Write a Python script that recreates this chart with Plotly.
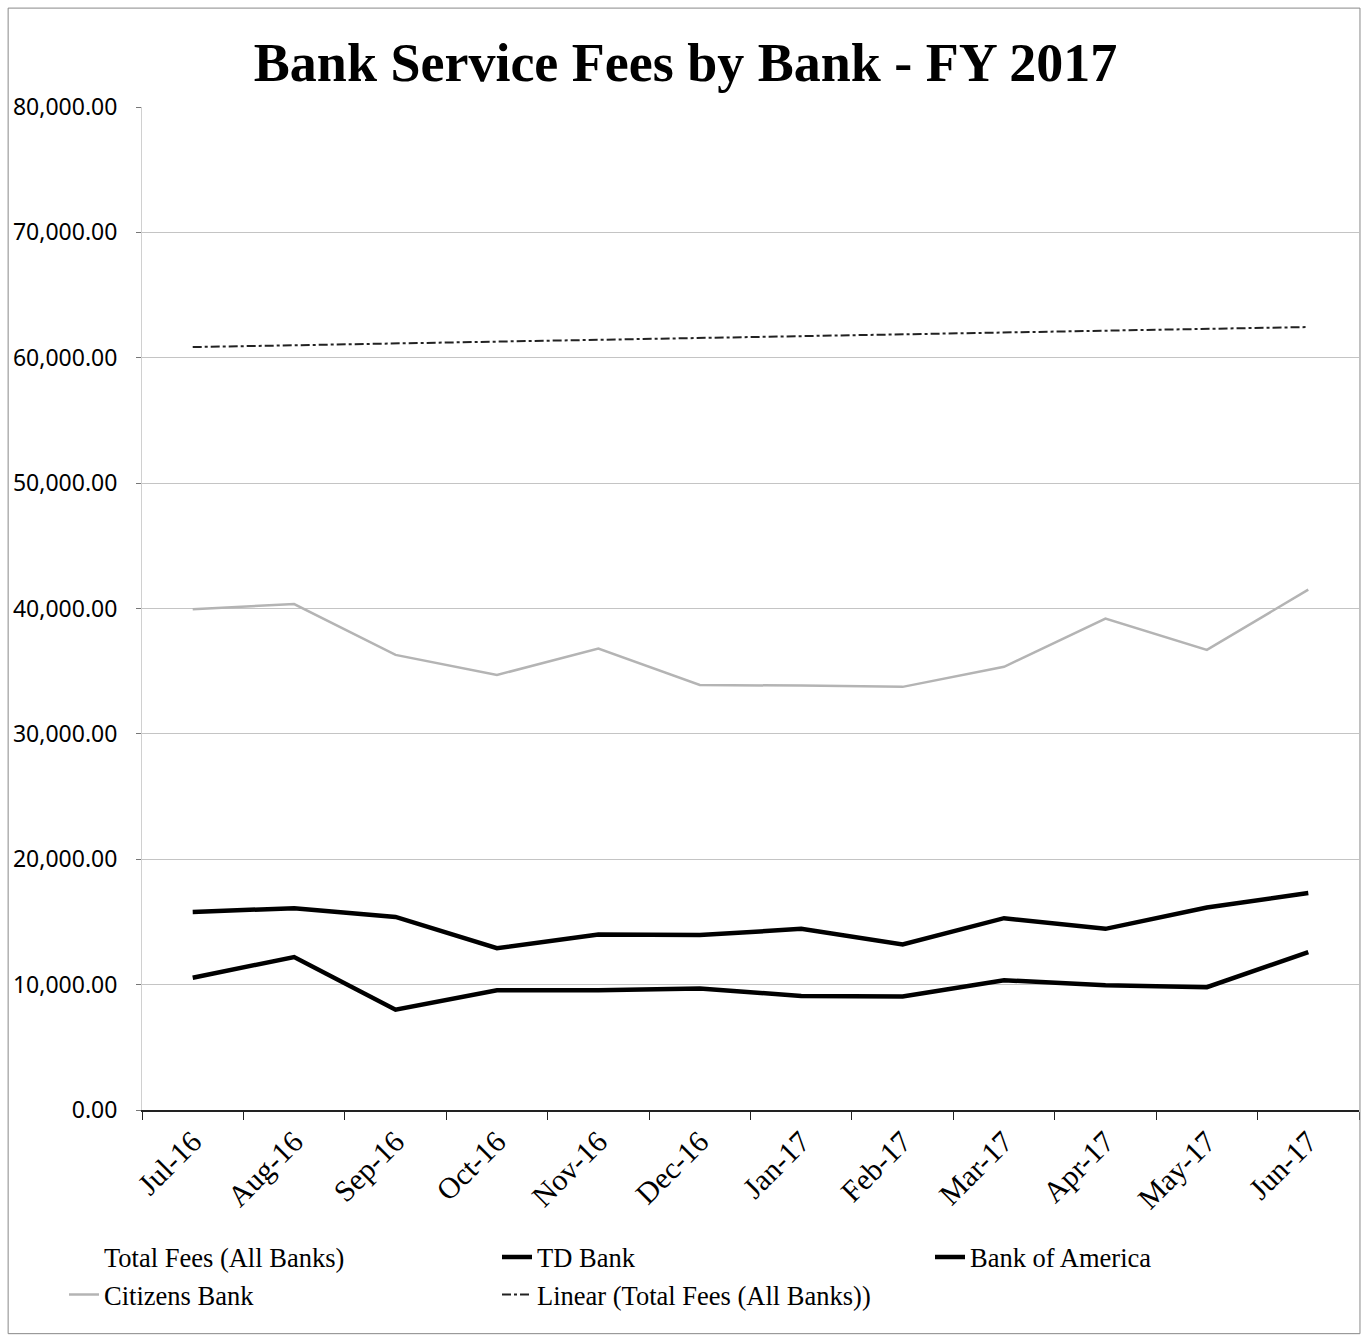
import plotly.graph_objects as go

months = ["Jul-16", "Aug-16", "Sep-16", "Oct-16", "Nov-16", "Dec-16",
          "Jan-17", "Feb-17", "Mar-17", "Apr-17", "May-17", "Jun-17"]
total_fees = [66300, 68650, 59700, 57150, 60350, 57550, 57400, 56000, 61000, 63600, 62650, 71400]
td_bank = [15800, 16100, 15400, 12900, 14000, 13950, 14450, 13200, 15300, 14450, 16150, 17300]
bank_of_america = [10550, 12200, 8000, 9550, 9550, 9700, 9100, 9050, 10350, 9950, 9800, 12600]
citizens_bank = [39950, 40350, 36300, 34700, 36800, 33900, 33850, 33750, 35350, 39200, 36700, 41500]
trend_months = ["Jul-16", "Jun-17"]
trend_values = [60850, 62450]
y_ticks = [0, 10000, 20000, 30000, 40000, 50000, 60000, 70000, 80000]

fig = go.Figure()
fig.add_trace(go.Scatter(x=months, y=total_fees, mode="lines", name="Total Fees (All Banks)",
                         line=dict(color="rgba(255,255,255,0)", width=2)))
fig.add_trace(go.Scatter(x=months, y=td_bank, mode="lines", name="TD Bank",
                         line=dict(color="#000000", width=4.5)))
fig.add_trace(go.Scatter(x=months, y=bank_of_america, mode="lines", name="Bank of America",
                         line=dict(color="#000000", width=4.5)))
fig.add_trace(go.Scatter(x=months, y=citizens_bank, mode="lines", name="Citizens Bank",
                         line=dict(color="#b4b4b4", width=2.5)))
fig.add_trace(go.Scatter(x=trend_months, y=trend_values, mode="lines",
                         name="Linear (Total Fees (All Banks))",
                         line=dict(color="#222222", width=2, dash="dashdot")))

fig.update_layout(
    width=1363, height=1337,
    margin=dict(l=142, r=4, t=107, b=227),
    paper_bgcolor="white", plot_bgcolor="white",
    title=dict(text="<b>Bank Service Fees by Bank - FY 2017</b>",
               font=dict(family="Liberation Serif", size=54, color="#000"),
               x=0.503, xanchor="center", y=0.9536, yanchor="middle"),
    showlegend=True,
    legend=dict(orientation="h", x=-0.049, xanchor="left", y=-0.123, yanchor="top",
                font=dict(family="Liberation Serif", size=26.5, color="#000"),
                entrywidth=388, entrywidthmode="pixels", traceorder="normal",
                bgcolor="rgba(0,0,0,0)"),
    xaxis=dict(type="category", categoryorder="array", categoryarray=months,
               range=[-0.5, 11.5],
               tickangle=-45, tickfont=dict(family="Liberation Serif", size=30, color="#000"),
               ticks="outside", tickson="boundaries", ticklen=8, tickcolor="#222",
               showline=True, linecolor="#222", linewidth=2, showgrid=False),
    yaxis=dict(range=[0, 80000], tickvals=y_ticks, tickformat=",.2f",
               tickfont=dict(family="Noto Sans", size=23, color="#000"),
               ticks="outside", ticklen=5, tickcolor="#777", ticklabelstandoff=14,
               showgrid=True, gridcolor="#c4c4c4", gridwidth=1,
               showline=True, linecolor="#d0d0d0", linewidth=1, zeroline=False),
    shapes=[dict(type="rect", xref="paper", yref="paper",
                 x0=-0.110, x1=1.0008, y0=-0.223, y1=1.0986,
                 line=dict(color="#888", width=1), fillcolor="rgba(0,0,0,0)")],
)

fig.write_html("out.html")
